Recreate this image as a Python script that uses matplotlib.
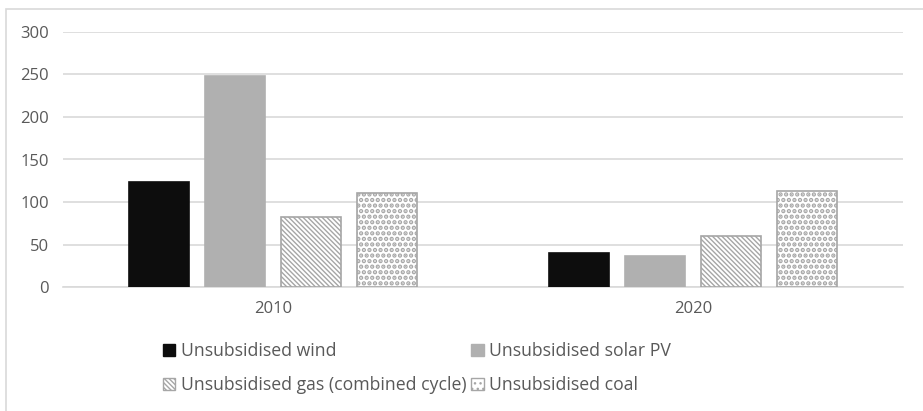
import numpy as np
import matplotlib.pyplot as plt
from matplotlib.patches import Patch, Rectangle

years = ['2010', '2020']
series = ['Unsubsidised wind', 'Unsubsidised solar PV',
          'Unsubsidised gas (combined cycle)', 'Unsubsidised coal']
wind = [124, 40]
solar = [248, 37]
gas = [82, 60]
coal = [111, 113]

TEXT = '#595959'
GRID = '#d9d9d9'
TICK_FS = 12
LEG_FS = 12.7

plt.rcParams['font.family'] = ['Open Sans', 'DejaVu Sans']

styles = [
    dict(facecolor='#0d0d0d', edgecolor='#0d0d0d', hatch=None),
    dict(facecolor='#b0b0b0', edgecolor='#b0b0b0', hatch=None),
    dict(facecolor='white', edgecolor='#a6a6a6', hatch='\\' * 7),
    dict(facecolor='white', edgecolor='#a6a6a6', hatch='.' * 3),
]
hatch_lw = [1.0, 1.0, 1.0, 2.2]

fig = plt.figure(figsize=(9.23, 4.11), dpi=100)
ax = fig.add_axes([63 / 923, 1 - 287 / 411, 840 / 923, 255 / 411])

x = np.arange(len(years))
width = 60 / 420
step = 76 / 420
handles = []
for i, (vals, st) in enumerate(zip([wind, solar, gas, coal], styles)):
    plt.rcParams['hatch.linewidth'] = hatch_lw[i]
    pos = x + (i - 1.5) * step
    ax.bar(pos, vals, width=width, linewidth=1.2, zorder=3, **st)
    plt.rcParams['hatch.linewidth'] = 1.0
    handles.append(Patch(linewidth=1.0, label=series[i], **st))

ax.set_xlim(-0.5, 1.5)
ax.set_ylim(0, 300)
ax.set_yticks(range(0, 301, 50))
ax.set_xticks(x)
ax.set_xticklabels(years)
ax.grid(axis='y', color=GRID, linewidth=1.2, zorder=0)
for s in ['top', 'right', 'left']:
    ax.spines[s].set_visible(False)
ax.spines['bottom'].set_color(GRID)
ax.spines['bottom'].set_linewidth(1.2)
ax.tick_params(axis='both', length=0, labelsize=TICK_FS, colors=TEXT)
ax.tick_params(axis='y', pad=10)
ax.tick_params(axis='x', pad=10)

# column-major order so the rows read wind/solar, gas/coal
order = [0, 2, 1, 3]
leg = fig.legend([handles[k] for k in order], [series[k] for k in order],
                 ncol=2, loc='upper left', bbox_to_anchor=(163 / 923, 1 - 342 / 411),
                 frameon=False, fontsize=LEG_FS, handlelength=0.7, handleheight=0.7,
                 handletextpad=0.3, columnspacing=0.3, labelspacing=0.93,
                 borderpad=0, borderaxespad=0)
for t in leg.get_texts():
    t.set_color(TEXT)

# chart frame
fig.patches.append(Rectangle((6 / 923, -0.1), 1.2, 1 - 9 / 411 + 0.1,
                             transform=fig.transFigure, fill=False,
                             edgecolor=GRID, linewidth=1.2))

fig.savefig('out.png', dpi=100)
